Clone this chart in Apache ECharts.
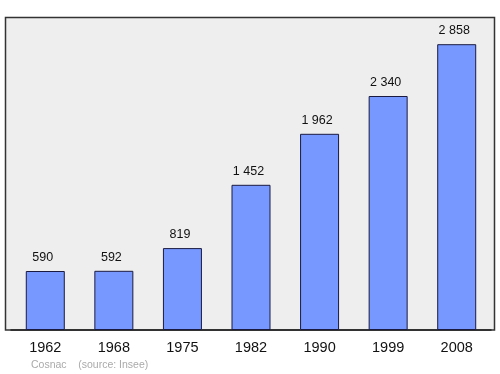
<!DOCTYPE html>
<html><head><meta charset="utf-8">
<script src="https://cdn.jsdelivr.net/npm/echarts@6/dist/echarts.min.js"></script>
<style>html,body{margin:0;padding:0;background:#fff}#c{width:500px;height:374px}</style>
</head><body><div id="c"></div>
<script>
var categories = ['1962','1968','1975','1982','1990','1999','2008'];
var population = [590, 592, 819, 1452, 1962, 2340, 2858];
var sourceText = 'Cosnac    (source: Insee)';

var chart = echarts.init(document.getElementById('c'), null, {renderer:'canvas'});
function fmt(v){ return String(v).replace(/\B(?=(\d{3})+(?!\d))/g, ' '); }
chart.setOption({
  animation:false,
  backgroundColor:'#ffffff',
  graphic:[
    {type:'rect', z:-10, shape:{x:5.5,y:17.5,width:489,height:312.5},
     style:{fill:'#eeeeee', stroke:'#333333', lineWidth:1.5}},
    {type:'text', left:31, top:360, style:{text:sourceText, fill:'#aaaaaa', font:'10.5px "Liberation Sans", Arial, sans-serif'}}
  ],
  grid:{left:11, width:480, top:17, height:313, containLabel:false},
  xAxis:{type:'category', data:categories,
    axisLine:{show:true, lineStyle:{color:'#222', width:1.5}}, axisTick:{show:false},
    axisLabel:{color:'#111', fontSize:14.5, margin:10, fontFamily:'Liberation Sans'}},
  yAxis:{type:'value', min:0, max:3130, show:false, splitLine:{show:false}},
  series:[{type:'bar', data:population, barWidth:39,
    itemStyle:{color:'#7799ff', borderColor:'#1a1a40', borderWidth:1},
    label:{show:true, position:'top', distance:7, offset:[-2.5,0], color:'#111', fontSize:12.5, fontFamily:'Liberation Sans',
      formatter:function(p){return fmt(p.value);}}}]
});
</script></body></html>
